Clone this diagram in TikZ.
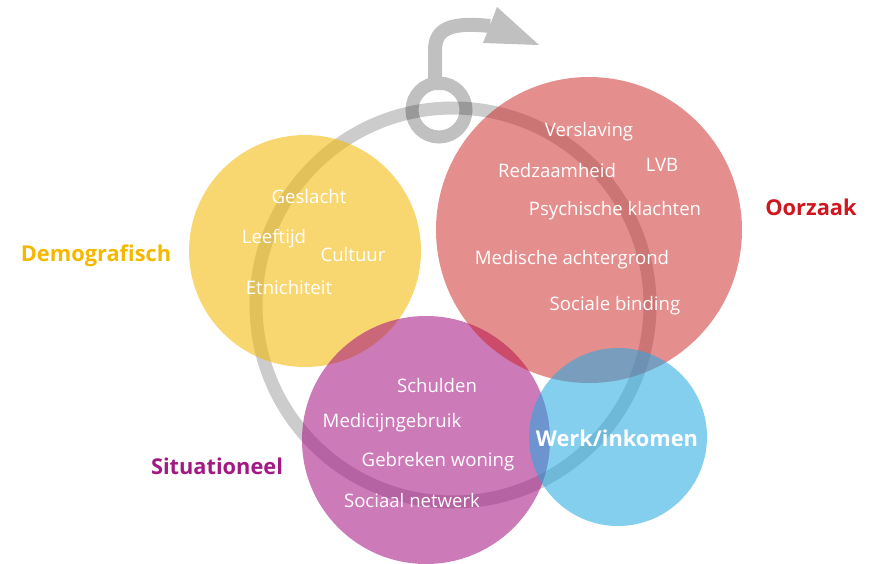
\documentclass[tikz,border=0pt]{standalone}
\usepackage{fontspec}
\setmainfont{Open Sans}
\definecolor{demo}{RGB}{245,184,0}
\definecolor{oorz}{RGB}{208,22,30}
\definecolor{situ}{RGB}{163,25,130}
\definecolor{redc}{RGB}{203,30,30}
\definecolor{magc}{RGB}{164,13,128}
\definecolor{bluec}{RGB}{36,168,225}
\definecolor{arrowgray}{RGB}{192,192,192}
\begin{document}
\begin{tikzpicture}[x=1pt,y=-1pt,
  txt/.style={text=white,font=\fontsize{18.6}{20}\selectfont,inner sep=0pt,yshift=-2pt},
  lbl/.style={font=\fontsize{21.8}{24}\selectfont\bfseries,inner sep=0pt},
  blob/.style={circle,draw=none,inner sep=0pt}]
\useasboundingbox (0,0) rectangle (870,563);
% top arrow
\draw[arrowgray,line width=13] (439,110) circle[radius=27];
\draw[arrowgray,line width=14] (435,90) -- (435,50) .. controls (435,28) and (452,22) .. (490,26);
\fill[arrowgray] (497,7) -- (539,45) -- (483,43) -- cycle;
% big ring
\draw[black,draw opacity=0.2,line width=13] (453,305) circle[radius=197];
% circles
\fill[demo,fill opacity=0.56] (305,251) circle[radius=116];
\fill[magc,fill opacity=0.55] (426,440) circle[radius=124];
\fill[redc,fill opacity=0.5] (589,230) circle[radius=153];
\fill[bluec,fill opacity=0.56] (618,437) circle[radius=89];
% labels
\node[lbl,text=demo] (demografisch) at (96,256) {Demografisch};
\node[lbl,text=oorz] (oorzaak) at (811,207) {Oorzaak};
\node[lbl,text=situ] (situationeel) at (217,466) {Situationeel};
\node[lbl,text=white] (werk) at (617,438) {Werk/inkomen};
% yellow texts
\node[txt] (geslacht) at (309,195) {Geslacht};
\node[txt] (leeftijd) at (274,237) {Leeftijd};
\node[txt] (cultuur) at (353,253) {Cultuur};
\node[txt] (etnichiteit) at (289,286) {Etnichiteit};
% red texts
\node[txt] (verslaving) at (589,130) {Verslaving};
\node[txt] (redzaamheid) at (557,169) {Redzaamheid};
\node[txt] (lvb) at (662,163) {LVB};
\node[txt] (psychisch) at (615,209) {Psychische klachten};
\node[txt] (medisch) at (572,258) {Medische achtergrond};
\node[txt] (sociaal) at (615,304) {Sociale binding};
% magenta texts
\node[txt] (schulden) at (437,384) {Schulden};
\node[txt] (medicijn) at (392,421) {Medicijngebruik};
\node[txt] (woning) at (438,460) {Gebreken woning};
\node[txt] (netwerk) at (412,499) {Sociaal netwerk};
\end{tikzpicture}
\end{document}
